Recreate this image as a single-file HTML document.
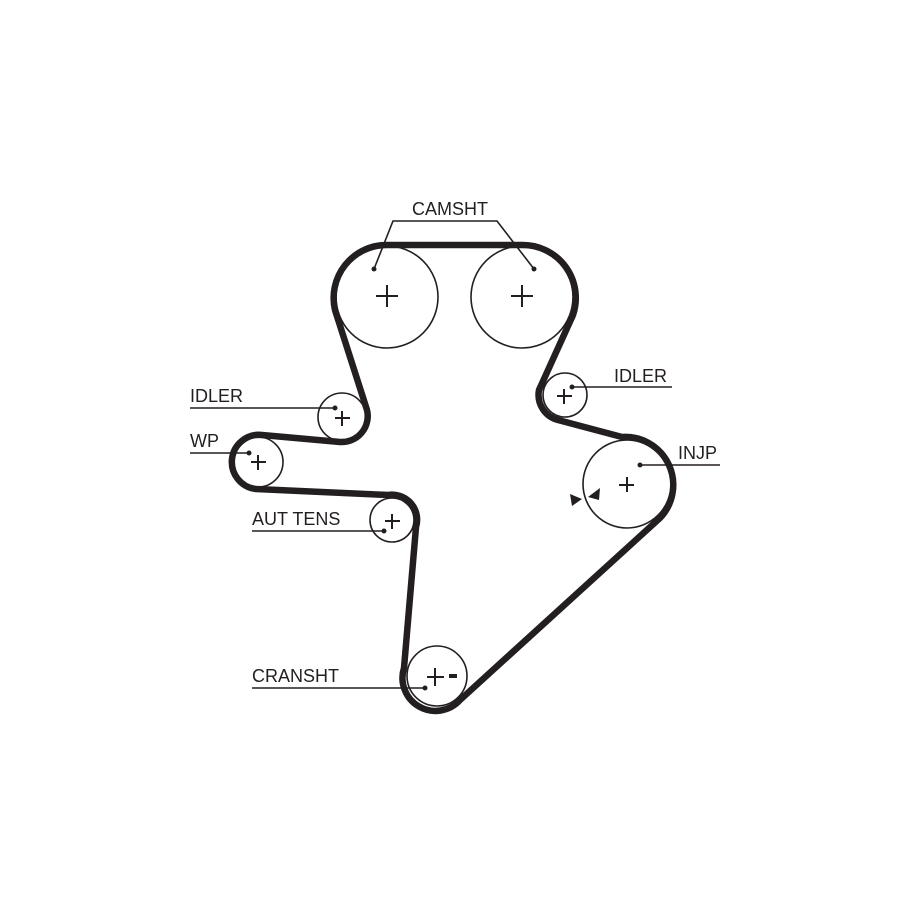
<!DOCTYPE html>
<html><head><style>
html,body{margin:0;padding:0;background:#fff;}
svg{display:block;}
text{font-family:"Liberation Sans",Arial,sans-serif;font-size:18px;fill:#231f20;}
</style></head><body>
<svg width="900" height="900" viewBox="0 0 900 900" xmlns="http://www.w3.org/2000/svg">
<g fill="none" stroke="#231f20" stroke-width="1.6">
<circle cx="387" cy="297" r="51"/>
<circle cx="522" cy="297" r="51"/>
<circle cx="342" cy="417" r="24"/>
<circle cx="565" cy="395" r="22"/>
<circle cx="258" cy="462" r="25"/>
<circle cx="392" cy="520" r="22"/>
<circle cx="627" cy="484" r="44"/>
<circle cx="437" cy="676" r="30"/>
</g>
<path d="M387 245 L522 245 A53 53 0 0 1 573 315 L539 390 A26 26 0 0 0 558 420 L622 437 A48 48 0 0 1 660 518 L460 700 A33 33 0 0 1 404 668 L416 527 A25 25 0 0 0 388 495 L256 489 A27 27 0 1 1 262 435 L340 442 A26 26 0 0 0 367 410 L335 310 A53 53 0 0 1 387 245 Z" fill="none" stroke="#231f20" stroke-width="6.5" stroke-linejoin="round"/>
<g stroke="#231f20" stroke-width="2" fill="none">
<path d="M376 296h22M387 285v22"/>
<path d="M511 296h22M522 285v22"/>
<path d="M335 418h15M342 411v15"/>
<path d="M557 396h15M564 389v15"/>
<path d="M251 462h15M258 455v15"/>
<path d="M385 521h15M392 514v15"/>
<path d="M619 485h15M627 477v15"/>
<path d="M427 677h17M435 668v18"/>
</g>
<rect x="449" y="674" width="8" height="4" fill="#231f20"/>
<g stroke="#231f20" stroke-width="1.6" fill="none">
<path d="M374 269 L393 221 L497 221 L534 269"/>
<path d="M190 408 L335 408"/>
<path d="M190 453 L249 453"/>
<path d="M252 531 L384 531"/>
<path d="M252 688 L425 688"/>
<path d="M572 387 L672 387"/>
<path d="M640 465 L720 465"/>
</g>
<g fill="#231f20">
<circle cx="374" cy="269" r="2.5"/><circle cx="534" cy="269" r="2.5"/>
<circle cx="335" cy="408" r="2.5"/><circle cx="249" cy="453" r="2.5"/>
<circle cx="384" cy="531" r="2.5"/><circle cx="425" cy="688" r="2.5"/>
<circle cx="572" cy="387" r="2.5"/><circle cx="640" cy="465" r="2.5"/>
<polygon points="570,494 582,499 572,506"/>
<polygon points="600,488 599,500 588,497"/>
</g>
<text x="412" y="215">CAMSHT</text>
<text x="190" y="402">IDLER</text>
<text x="190" y="447">WP</text>
<text x="252" y="525">AUT TENS</text>
<text x="252" y="682">CRANSHT</text>
<text x="614" y="382">IDLER</text>
<text x="678" y="459">INJP</text>
</svg>
</body></html>
